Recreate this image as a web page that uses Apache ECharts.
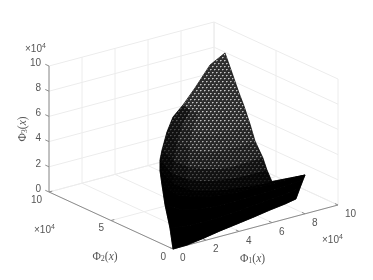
<!DOCTYPE html>
<html><head><meta charset="utf-8">
<style>html,body{margin:0;padding:0;background:#fff}#c{width:373px;height:280px}</style>
<script src="https://cdn.jsdelivr.net/npm/echarts@6/dist/echarts.min.js"></script>
</head><body><div id="c"></div>
<script>
// Surface values, in units of 10^4.
const phi2Rows = [0, 0.3, 0.8, 1.1, 1.4, 1.6, 1.9, 2.3, 2.8, 3.4, 4.2, 5.7, 6.45];
const phi1Table = [
 [0,.85,1.82,2.85,3.88,4.91,5.88,6.79,7.45],
 [.04,1.07,2.10,3.13,4.16,5.19,6.17,7.07,7.92],
 [.12,1.15,2.24,3.33,4.42,5.51,6.54,7.57,8.48],
 [.16,1.13,2.28,3.43,4.58,5.74,6.83,7.86,8.83],
 [.26,1.11,2.08,3.05,4.02,4.93,5.78,6.45,7.05],
 [.41,1.14,2.05,3.02,3.99,4.90,5.75,6.41,6.90],
 [.76,1.49,2.34,3.25,4.15,5.0,5.79,6.40,6.88],
 [1.36,1.97,2.70,3.49,4.21,4.94,5.61,6.21,6.70],
 [2.10,2.65,3.26,3.92,4.53,5.13,5.74,6.29,6.77],
 [3.16,3.59,4.07,4.56,5.04,5.52,6.01,6.43,6.86],
 [4.49,4.85,5.16,5.52,5.88,6.25,6.55,6.85,7.16],
 [6.53,6.65,6.83,7.01,7.19,7.32,7.44,7.62,7.74],
 [8,8,8,8,8,8,8,8,8]
];
const phi3Table = [
 [0,.02,.2,.44,.63,.83,1.04,1.2,1.37],
 [1.52,1.32,1.27,1.31,1.43,1.54,1.68,1.76,1.94],
 [3.09,2.33,2.03,1.89,1.91,1.92,1.95,2.07,2.15],
 [4.53,3.39,2.84,2.51,2.34,2.34,2.28,2.31,2.29],
 [5.54,4.14,3.32,2.91,2.64,2.48,2.35,2.27,2.26],
 [6.2,4.91,4.12,3.62,3.36,3.2,3.14,3.15,3.13],
 [6.74,5.6,4.83,4.36,4.04,3.9,3.94,3.97,3.96],
 [7.77,6.68,5.95,5.44,5.19,5.1,5.1,5.13,5.19],
 [8.47,7.57,6.96,6.49,6.2,6.15,6.09,6.22,6.29],
 [8.79,8.24,7.83,7.51,7.33,7.25,7.24,7.33,7.41],
 [9.31,8.95,8.68,8.48,8.35,8.22,8.2,8.17,7.98],
 [9.75,9.54,9.4,9.34,9.28,9.23,9.19,9.13,9.16],
 [9.85,9.85,9.85,9.85,9.85,9.85,9.85,9.85,9.85]
];
const stripShade = [1,1,1,.97,.85,.6,.32,.14,.04,0,0,0];
const leftShade = [.55,.25];
const phi1Ticks = [0,2,4,6,8,10];
const phi2Ticks = [0,5,10];
const phi3Ticks = [0,2,4,6,8,10];
const axisMax = 10;

// View of the 3D box.
function project(a,b,c){ return [173+16.5*a-12.4*b, 249-4.4*a-5.7*b-12.6*c]; }

const GRID='#ececec', AXIS='#8c8c8c', TXT='#555555';
const segs=[], axisSegs=[], texts=[];
phi1Ticks.forEach(a=>{ segs.push([a,0,0,a,axisMax,0],[a,axisMax,0,a,axisMax,axisMax]);
  axisSegs.push([a,0,0,a,.25,0]);
  texts.push({p:[a,0,0],dx:7,dy:9.5,t:String(a),align:'left'}); });
phi2Ticks.forEach(b=>{ segs.push([0,b,0,axisMax,b,0],[axisMax,b,0,axisMax,b,axisMax]);
  axisSegs.push([0,b,0,.2,b,0]);
  texts.push({p:[0,b,0],dx:-7,dy:8,t:String(b),align:'right'}); });
phi3Ticks.forEach(c=>{ segs.push([0,axisMax,c,axisMax,axisMax,c],[axisMax,0,c,axisMax,axisMax,c]);
  axisSegs.push([0,axisMax,c,0,axisMax+.3,c]);
  texts.push({p:[0,axisMax,c],dx:-8,dy:-3,t:String(c),align:'right'}); });
axisSegs.push([0,0,0,axisMax,0,0],[0,0,0,0,axisMax,0],[0,axisMax,0,0,axisMax,axisMax]);

const expRich={m:{fontSize:10,fontFamily:'Liberation Sans',fill:TXT},s:{fontSize:7,fontFamily:'Liberation Sans',fill:TXT,verticalAlign:'top',padding:[0,0,5,0]}};
const expText='{m|×10}{s|4}';
texts.push({p:[0,axisMax,axisMax],dx:-24,dy:-17,t:expText,rich:expRich,align:'left'});
texts.push({p:[0,axisMax,0],dx:-15,dy:38,t:expText,rich:expRich,align:'left'});
texts.push({p:[axisMax,0,0],dx:-16,dy:35,t:expText,rich:expRich,align:'left'});
const lblRich={a:{fontSize:11.5,fontFamily:'Liberation Serif',fill:TXT},i:{fontSize:11.5,fontFamily:'Liberation Serif',fontStyle:'italic',fill:TXT},s:{fontSize:8,fontFamily:'Liberation Serif',fill:TXT,padding:[4,0,0,0]}};
const lbl=n=>'{a|Φ}{s|'+n+'}{a|(}{i|x}{a|)}';
texts.push({p:[5,0,0],dx:-3,dy:32,t:lbl(1),rich:lblRich,align:'center'});
texts.push({p:[0,5,0],dx:-6,dy:36,t:lbl(2),rich:lblRich,align:'center'});
texts.push({p:[0,axisMax,5],dx:-26,dy:0,t:lbl(3),rich:lblRich,align:'center',rot:Math.PI/2});

// Texture of the dense mesh, as a repeating tile.
function tile(){
  const cv=document.createElement('canvas'); cv.width=4; cv.height=6;
  const x=cv.getContext('2d'); x.fillStyle='#2e2e2e'; x.fillRect(0,0,4,6);
  x.fillStyle='#c8c8c8'; x.fillRect(0,0,1,1); x.fillRect(2,3,1,1);
  x.fillStyle='#8a8a8a'; x.fillRect(1,0,1,1); x.fillRect(3,3,1,1);
  x.fillStyle='#606060'; x.fillRect(0,1,1,1); x.fillRect(2,4,1,1);
  return cv;
}
const meshFill={image:tile(),repeat:'repeat'};

const rowPts=(k,api)=>phi1Table[k].map((a,j)=>api.coord(project(a,phi2Rows[k],phi3Table[k][j])));
const last=phi2Rows.length-1, lastCol=phi1Table[0].length-1;

const lineSeries=(list,color,w,z)=>({type:'custom',coordinateSystem:'cartesian2d',silent:true,z,
  data:list.map((_,i)=>[i]),
  renderItem:(p,api)=>{const s=list[api.value(0)];
    const A=api.coord(project(s[0],s[1],s[2])),B=api.coord(project(s[3],s[4],s[5]));
    return {type:'line',shape:{x1:A[0],y1:A[1],x2:B[0],y2:B[1]},style:{stroke:color,lineWidth:w}};}});

const leftCells=[];
for(let k=4;k<=8;k++) leftShade.forEach((s,j)=>leftCells.push([k,j,s]));

const chart=echarts.init(document.getElementById('c'),null,{renderer:'canvas'});
chart.setOption({
  animation:false,
  grid:{left:0,right:0,top:0,bottom:0},
  xAxis:{type:'value',min:0,max:373,show:false},
  yAxis:{type:'value',min:0,max:280,inverse:true,show:false},
  series:[
    lineSeries(segs,GRID,1,1),
    lineSeries(axisSegs,AXIS,1,2),
    {type:'custom',coordinateSystem:'cartesian2d',silent:true,z:3,data:[[0]],
     renderItem:(p,api)=>{
       const pts=[...rowPts(0,api)];
       for(let k=1;k<=last;k++) pts.push(rowPts(k,api)[lastCol]);
       for(let k=last;k>=1;k--) pts.push(rowPts(k,api)[0]);
       return {type:'polygon',shape:{points:pts},style:{fill:meshFill,stroke:'rgba(0,0,0,0.85)',lineWidth:.8}};
     }},
    {type:'custom',coordinateSystem:'cartesian2d',silent:true,z:4,data:stripShade.map((_,i)=>[i]),
     renderItem:(p,api)=>{
       const k=api.value(0);
       const pts=[...rowPts(k,api),...rowPts(k+1,api).reverse()];
       const s=stripShade[k];
       return {type:'polygon',shape:{points:pts},style:{fill:'rgba(0,0,0,'+s+')',stroke:s>=.9?'#000':null,lineWidth:.6}};
     }},
    {type:'custom',coordinateSystem:'cartesian2d',silent:true,z:4,data:leftCells,
     renderItem:(p,api)=>{
       const k=api.value(0), j=api.value(1);
       const lo=rowPts(k,api), hi=rowPts(k+1,api);
       return {type:'polygon',shape:{points:[lo[j],lo[j+1],hi[j+1],hi[j]]},style:{fill:'rgba(0,0,0,'+api.value(2)+')'}};
     }},
    {type:'custom',coordinateSystem:'cartesian2d',silent:true,z:5,data:texts.map((_,i)=>[i]),
     renderItem:(p,api)=>{
       const t=texts[api.value(0)];
       const q=api.coord(project(t.p[0],t.p[1],t.p[2]));
       return {type:'text',x:q[0]+t.dx,y:q[1]+t.dy,rotation:t.rot||0,
         style:{x:0,y:0,text:t.t,rich:t.rich,fill:TXT,fontSize:10,fontFamily:'Liberation Sans',align:t.align,verticalAlign:'middle'}};
     }}
  ]
});
</script></body></html>
